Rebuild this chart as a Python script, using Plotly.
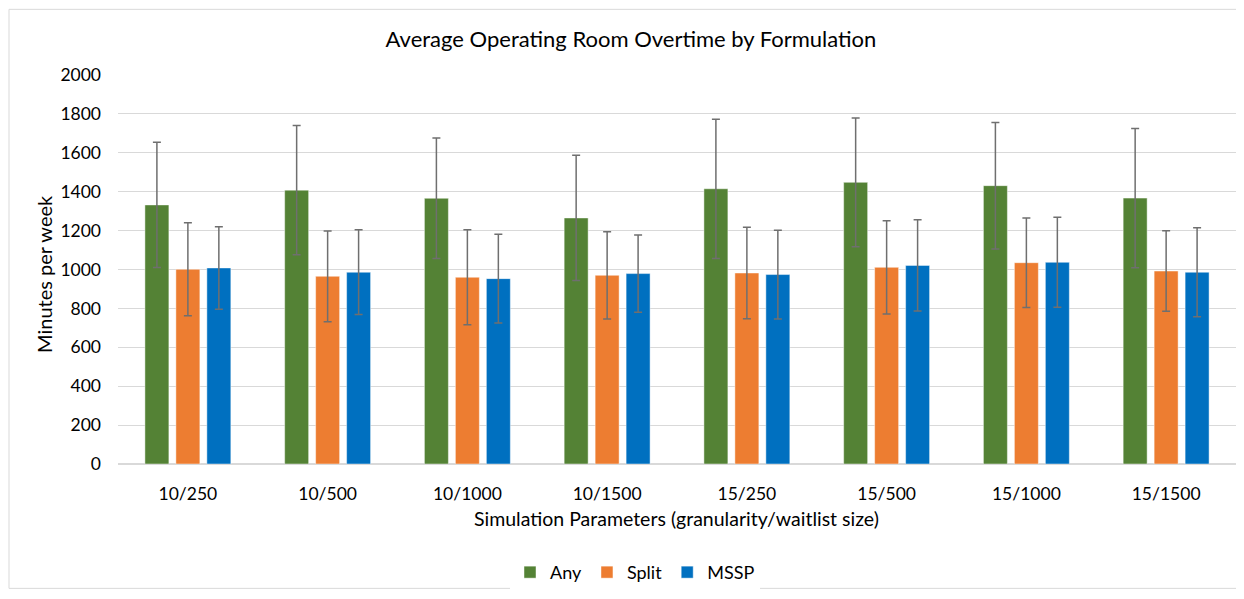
import plotly.graph_objects as go

categories = ["10/250", "10/500", "10/1000", "10/1500", "15/250", "15/500", "15/1000", "15/1500"]
any_vals = [1332, 1408, 1366, 1265, 1415, 1448, 1431, 1367]
split_vals = [1001, 965, 960, 970, 982, 1011, 1035, 992]
mssp_vals = [1008, 986, 953, 979, 974, 1021, 1037, 986]
any_err = [322, 332, 310, 322, 358, 331, 325, 358]
split_err = [239, 233, 244, 224, 235, 240, 230, 207]
mssp_err = [212, 218, 228, 199, 228, 235, 231, 229]

series = [
    ("Any", any_vals, any_err, "#548235"),
    ("Split", split_vals, split_err, "#ED7D31"),
    ("MSSP", mssp_vals, mssp_err, "#0070C0"),
]

FONT = "Lato, Carlito, 'Open Sans', sans-serif"

fig = go.Figure()
for name, vals, errs, color in series:
    fig.add_trace(go.Bar(
        name=name, x=categories, y=vals,
        marker=dict(color=color, line=dict(color="rgba(255,255,255,0.45)", width=1)),
        error_y=dict(type="data", array=errs, visible=True, color="#6f6f6f", thickness=1.5, width=4),
    ))

# page body has an 8px margin; work in reference-screen pixels and shift
OFF = 8
W, H = 1244 - OFF, 599 - OFF
PL, PR, PT, PB = 118, 1236, 75, 466  # plot area in screen pixels
L = PL - OFF
T = PT - OFF
R = W - (PR - OFF)
B = H - (PB - OFF)
pw = PR - PL
ph = PB - PT

def px_x(px):
    return (px - PL) / pw

def px_y(py):
    return (PB - py) / ph

fig.update_layout(
    width=W, height=H,
    margin=dict(l=L, r=R, t=T, b=B),
    paper_bgcolor="white", plot_bgcolor="white",
    barmode="group", bargap=0.335, bargroupgap=0.226,
    font=dict(family=FONT, color="#000000", size=17),
    title=dict(text="Average Operating Room Overtime by Formulation", x=(631 - OFF) / W, xanchor="center",
               y=1 - (39 - OFF) / H, yanchor="middle", font=dict(size=22, family=FONT, color="#000")),
    showlegend=True,
    legend=dict(orientation="h", x=px_x(635), xanchor="center", y=px_y(575), yanchor="middle",
                font=dict(size=18, family=FONT), itemwidth=30, traceorder="normal"),
    xaxis=dict(showgrid=False, showline=True, linecolor="#d9d9d9", linewidth=1,
               ticks="", tickfont=dict(size=17.5, family=FONT), ticklabelstandoff=14),
    yaxis=dict(range=[0, 2000], dtick=200, showgrid=True, gridcolor="#d9d9d9", gridwidth=1,
               zeroline=True, zerolinecolor="#d9d9d9", showline=False, ticks="",
               tickfont=dict(size=17.5, family=FONT), ticklabelstandoff=16),
    annotations=[
        dict(text="Minutes per week", textangle=-90, xref="paper", yref="paper",
             x=px_x(44), y=px_y(275), xanchor="center", yanchor="middle", showarrow=False,
             font=dict(size=20, family=FONT, color="#000")),
        dict(text="Simulation Parameters (granularity/waitlist size)", xref="paper", yref="paper",
             x=px_x(676), y=px_y(521), xanchor="center", yanchor="middle", showarrow=False,
             font=dict(size=19.5, family=FONT, color="#000")),
    ],
    shapes=[
        dict(type="rect", xref="paper", yref="paper", x0=px_x(9), x1=px_x(1240), y0=px_y(591), y1=px_y(9),
             line=dict(color="#d9d9d9", width=1), fillcolor="rgba(0,0,0,0)", layer="below"),
    ],
)

fig.write_html("out.html")
